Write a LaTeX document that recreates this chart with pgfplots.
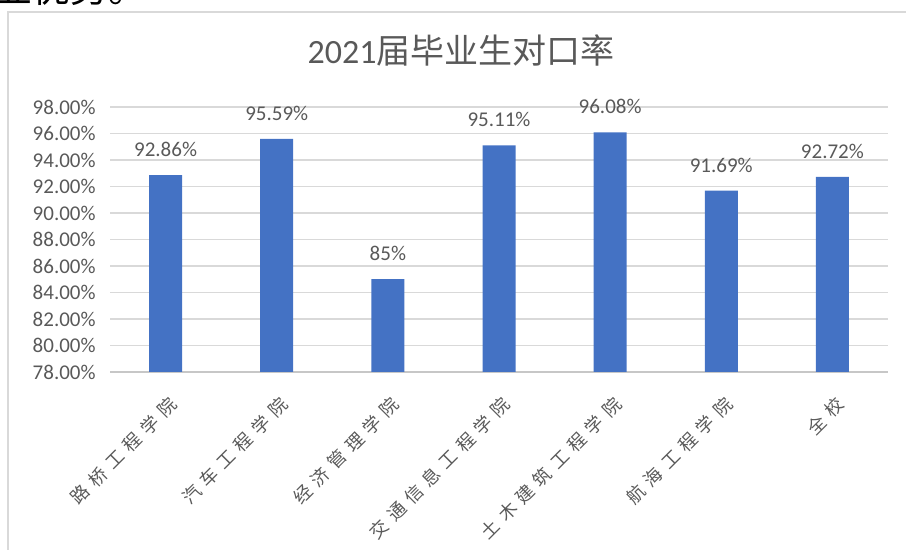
\documentclass[border=0pt]{standalone}
\usepackage{fontspec}
\setmainfont{Carlito}
\newfontfamily\cjk{Noto Sans CJK SC}
\newfontfamily\cjkspaced[LetterSpace=36]{Noto Sans CJK SC}
\usepackage{pgfplots}
\pgfplotsset{compat=1.18}
\definecolor{barblue}{HTML}{4472C4}
\definecolor{txtgray}{HTML}{595959}
\definecolor{gridgray}{HTML}{D9D9D9}

\begin{document}
\begin{tikzpicture}[x=0.5pt, y=0.5pt]
\useasboundingbox (0,0) rectangle (906,550);
% cut-off text of the page above the chart
\begin{scope}
  \clip (0,543) rectangle (300,550);
  \node[anchor=base west, inner sep=0pt, font=\cjk\fontsize{19}{19}\selectfont] at (-6,547) {业优势。};
\end{scope}
% chart frame
\draw[gridgray, line width=0.8pt] (8,0) -- (8,538) -- (906,538);
% title
\node[txtgray, font=\fontsize{17}{17}\selectfont] at (461,500) {2021\cjk 届毕业生对口率};

\begin{axis}[
    at={(55pt,89pt)}, anchor=south west,
    scale only axis,
    width=389pt, height=132.5pt,
    ymin=78, ymax=98,
    ytick={78,80,...,98},
    xmin=-0.5, xmax=6.5,
    xtick=data,
    xticklabels={路桥工程学院,汽车工程学院,经济管理学院,交通信息工程学院,土木建筑工程学院,航海工程学院,全校},
    x tick label style={font=\cjkspaced\fontsize{9}{9}\selectfont, text=txtgray,
        xshift=4pt, yshift=-14.5pt, rotate=45, anchor=east, inner sep=0pt},
    yticklabel={\pgfmathprintnumber[fixed, fixed zerofill, precision=2]{\tick}\%},
    /pgf/number format/assume math mode=true,
    y tick label style={font=\fontsize{10.5}{10.5}\selectfont, text=txtgray, inner sep=0pt, xshift=-7pt},
    ymajorgrids=true,
    grid style={gridgray, line width=0.7pt},
    axis line style={draw=none},
    axis x line*=bottom,
    x axis line style={draw=gridgray!80!gray, line width=0.7pt},
    axis y line*=left,
    y axis line style={draw=none},
    major tick length=0pt,
    ybar, bar width=16.5pt,
    nodes near coords,
    point meta=explicit symbolic,
    nodes near coords style={font=\fontsize{10.5}{10.5}\selectfont, text=txtgray, anchor=south, inner sep=0pt, yshift=9pt},
]
\addplot[fill=barblue, draw=none] table[meta=lbl] {
x y lbl
0 92.86 92.86\%
1 95.59 95.59\%
2 85.00 85\%
3 95.11 95.11\%
4 96.08 96.08\%
5 91.69 91.69\%
6 92.72 92.72\%
};
\end{axis}
\end{tikzpicture}
\end{document}
